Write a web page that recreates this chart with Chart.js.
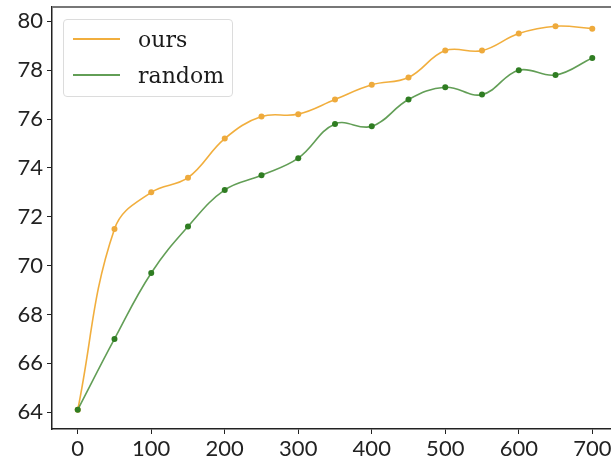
<!DOCTYPE html>
<html>
<head>
<meta charset="utf-8">
<script src="https://cdn.jsdelivr.net/npm/chart.js@4"></script>
<style>
  html, body { margin: 0; padding: 0; background: #fff; }
  #wrap { position: relative; width: 611px; height: 461px; overflow: hidden; }
  #chart { position: absolute; left: 0; top: 0; }
  #legend {
    position: absolute; left: 63px; top: 19px; width: 168px; height: 76px;
    border: 1px solid #dcdcdc; border-radius: 4px; background: rgba(255,255,255,0.85);
    font-family: "DejaVu Serif", serif; font-size: 22px; color: #1a1a1a;
  }
  .row { position: absolute; left: 9px; height: 30px; display: flex; align-items: center; }
  .swatch { width: 47px; height: 0; border-top: 2px solid; margin-right: 18px; }
</style>
</head>
<body>
<div id="wrap">
  <canvas id="chart" width="625" height="461"></canvas>
  <div id="legend"></div>
</div>
<script>
// data
const steps = [0, 50, 100, 150, 200, 250, 300, 350, 400, 450, 500, 550, 600, 650, 700];
const oursValues = [64.1, 71.5, 73.0, 73.6, 75.2, 76.1, 76.2, 76.8, 77.4, 77.7, 78.8, 78.8, 79.5, 79.8, 79.7];
const randomValues = [64.1, 67.0, 69.7, 71.6, 73.1, 73.7, 74.4, 75.8, 75.7, 76.8, 77.3, 77.0, 78.0, 77.8, 78.5];
const xTicks = [0, 100, 200, 300, 400, 500, 600, 700];
const yTicks = [64, 66, 68, 70, 72, 74, 76, 78, 80];

const seriesLabels = ["ours", "random"];
const lineColors = ["rgba(240,165,40,0.9)", "rgba(45,125,30,0.75)"];
const pointColors = ["#eeaa3c", "#2f7d22"];

const toPoints = (vals) => steps.map((s, i) => ({ x: s, y: vals[i] }));

const tickFont = { family: "Lato, 'DejaVu Sans', sans-serif", size: 22 };

// top spine like the matplotlib frame
const topBorder = {
  id: "topBorder",
  afterDraw(chart) {
    const { ctx, chartArea } = chart;
    ctx.save();
    ctx.strokeStyle = "#777";
    ctx.lineWidth = 2;
    ctx.beginPath();
    ctx.moveTo(chartArea.left, chartArea.top);
    ctx.lineTo(chartArea.right, chartArea.top);
    ctx.stroke();
    ctx.restore();
  }
};

const chart = new Chart(document.getElementById("chart").getContext("2d"), {
  type: "line",
  data: {
    datasets: [oursValues, randomValues].map((vals, i) => ({
      label: seriesLabels[i],
      data: toPoints(vals),
      order: 1 - i, // random drawn on top, like the reference
      borderColor: lineColors[i],
      backgroundColor: pointColors[i],
      pointBackgroundColor: pointColors[i],
      pointBorderWidth: 0,
      pointRadius: 3,
      borderWidth: 1.6,
      tension: 0.4,
      fill: false,
    })),
  },
  options: {
    responsive: false,
    animation: false,
    layout: { padding: { top: 7, right: 7, left: 0, bottom: 0 } },
    plugins: { legend: { display: false }, tooltip: { enabled: false } },
    scales: {
      x: {
        type: "linear",
        min: -35,
        max: 735,
        afterBuildTicks: (scale) => { scale.ticks = xTicks.map((v) => ({ value: v })); },
        afterFit: (scale) => { scale.height = 32; scale.paddingLeft = 0; scale.paddingRight = 0; },
        grid: { drawOnChartArea: false, tickLength: 5, tickColor: "#222", tickWidth: 1 },
        border: { color: "#222", width: 1.5 },
        ticks: { font: tickFont, color: "#222", padding: 2, maxRotation: 0 },
      },
      y: {
        min: 63.315,
        max: 80.585,
        afterBuildTicks: (scale) => { scale.ticks = yTicks.map((v) => ({ value: v })); },
        afterFit: (scale) => { scale.width = 52; scale.paddingTop = 0; scale.paddingBottom = 0; },
        grid: { drawOnChartArea: false, tickLength: 5, tickColor: "#222", tickWidth: 1 },
        border: { color: "#222", width: 1.5 },
        ticks: { font: tickFont, color: "#222", padding: 4 },
      },
    },
  },
  plugins: [topBorder],
});

// legend as html box in upper-left corner
const legend = document.getElementById("legend");
chart.data.datasets.forEach((ds, i) => {
  const row = document.createElement("div");
  row.className = "row";
  row.style.top = (4 + i * 36) + "px";
  const sw = document.createElement("span");
  sw.className = "swatch";
  sw.style.borderTopColor = ds.borderColor;
  const txt = document.createElement("span");
  txt.textContent = ds.label;
  row.appendChild(sw);
  row.appendChild(txt);
  legend.appendChild(row);
});
</script>
</body>
</html>
